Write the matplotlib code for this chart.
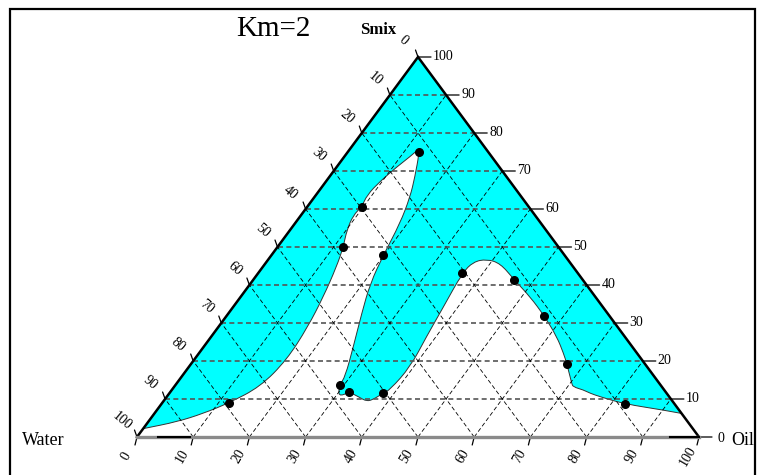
import matplotlib.pyplot as plt
from matplotlib.patches import PathPatch, Rectangle
from matplotlib.path import Path

plt.rcParams['font.family'] = ['Liberation Serif', 'DejaVu Serif']

# puntos experimentales (%)  Water + Oil + Smix = 100
water = [12.3, 29.7, 38.3, 32.2, 20.5, 12.2, 11.6, 13.9, 8.9, 79.1, 57.1, 56.3, 50.5]
oil = [12.6, 9.7, 11.7, 19.9, 36.3, 46.4, 56.6, 66.9, 82.4, 11.9, 29.2, 31.9, 38.0]
smix = [75.1, 60.6, 50.0, 47.9, 43.2, 41.4, 31.8, 19.2, 8.7, 9.0, 13.7, 11.8, 11.5]

# contorno de la zona de microemulsion (oil, smix): borde izq -> vertice -> borde der -> curva
zone_oil = [0.0, 0.0, 93.8, 90.1, 82.4, 77.1, 74.9, 73.2, 71.0, 70.3, 66.9, 64.9, 61.5,
            56.6, 51.5, 46.4, 41.8, 38.8, 36.8, 36.3, 37.4, 38.3, 39.4, 38.8, 38.0,
            37.3, 36.3, 34.1, 31.9, 30.5, 29.2, 29.1, 26.6, 23.7, 21.3, 19.9, 18.7,
            17.0, 15.2, 12.9, 12.2, 11.7, 10.7, 9.6, 9.1, 9.7, 9.3, 10.1, 11.7, 13.1,
            14.7, 15.9, 16.5, 15.3, 11.9, 8.7, 5.1, 0.3]
zone_smix = [2.2, 100.0, 6.2, 7.1, 8.7, 10.6, 11.5, 12.4, 13.2, 14.1, 19.2, 22.0, 26.4,
             31.8, 36.9, 41.4, 45.7, 46.8, 46.1, 43.2, 34.3, 26.4, 18.5, 12.4, 11.5,
             10.2, 9.3, 10.6, 11.8, 10.6, 13.7, 15.9, 23.8, 32.6, 40.4, 47.9, 56.2,
             63.2, 68.5, 74.6, 75.7, 73.8, 71.1, 67.2, 63.7, 60.6, 58.4, 54.5, 50.0, 44.8,
             36.9, 29.0, 20.3, 13.2, 9.0, 6.2, 4.0, 2.3]

ticks = list(range(0, 101, 10))


def tern(o, s):
    return o + s / 2.0, s


fig = plt.figure(figsize=(7.57, 4.75), dpi=100)
ax = fig.add_axes([137 / 757, 38 / 475, 562 / 757, 380 / 475])
ax.set_xlim(0, 100)
ax.set_ylim(0, 100)
ax.axis('off')

# zona cyan: lados rectos sobre el triangulo, curva suavizada en el interior
pts = [tern(o, s) for o, s in zip(zone_oil, zone_smix)]
curve = pts[2:] + [pts[0]]
verts = [pts[0], pts[1], curve[0]]
codes = [Path.MOVETO, Path.LINETO, Path.LINETO]
cverts = [curve[0]]
ccodes = [Path.MOVETO]
for i in range(1, len(curve) - 1):
    mid = ((curve[i][0] + curve[i + 1][0]) / 2, (curve[i][1] + curve[i + 1][1]) / 2)
    if i == len(curve) - 2:
        mid = curve[-1]
    verts += [curve[i], mid]
    codes += [Path.CURVE3, Path.CURVE3]
    cverts += [curve[i], mid]
    ccodes += [Path.CURVE3, Path.CURVE3]
verts.append(pts[0])
codes.append(Path.CLOSEPOLY)
ax.add_patch(PathPatch(Path(verts, codes), facecolor='#00ffff', edgecolor='none', zorder=1))
ax.add_patch(PathPatch(Path(cverts, ccodes), facecolor='none', edgecolor='#333333',
                       lw=0.7, zorder=2))

# rejilla
for t in ticks[1:-1]:
    x0, y0 = tern(0, t)
    x1, y1 = tern(100 - t, t)
    ax.plot([x0, x1], [y0, y1], color='#555555', lw=1.2, ls=(0, (3, 2)), zorder=3)
    x0, y0 = tern(t, 0)
    x1, y1 = tern(t, 100 - t)
    ax.plot([x0, x1], [y0, y1], color='black', lw=0.6, ls=(0, (5, 3)), zorder=3)
    x0, y0 = tern(100 - t, 0)
    x1, y1 = tern(0, 100 - t)
    ax.plot([x0, x1], [y0, y1], color='black', lw=0.6, ls=(0, (5, 3)), zorder=3)

# bordes del triangulo
ax.plot([0, 50, 100], [0, 100, 0], color='black', lw=1.8, zorder=5, clip_on=False,
        solid_joinstyle='miter')
ax.plot([0, 100], [0, 0], color='#8a8a8a', lw=2.4, zorder=5, clip_on=False)
ax.plot([3.7, 9.4], [0, 0], color='black', lw=1.5, zorder=6, clip_on=False)
ax.plot([94.8, 100], [0, 0], color='black', lw=1.5, zorder=6, clip_on=False)

tick_kw = dict(textcoords='offset pixels', annotation_clip=False,
               arrowprops=dict(arrowstyle='-', lw=0.9, color='black', shrinkA=0, shrinkB=0))
lab_kw = dict(textcoords='offset pixels', annotation_clip=False, fontsize=10)

for t in ticks:
    # Smix (derecha)
    p = tern(100 - t, t)
    ax.annotate('', xy=p, xytext=(13, 0), **tick_kw)
    if t > 0:
        ax.annotate(str(t), xy=p, xytext=(15, 0), ha='left', va='center', **lab_kw)
    # Water (izquierda)
    p = tern(0, 100 - t)
    ax.annotate('', xy=p, xytext=(-2.5, 7), **tick_kw)
    ax.annotate(str(t), xy=p, xytext=(-15, 16), ha='center', va='center',
                rotation=-40, **lab_kw)
    # Oil (abajo)
    p = tern(t, 0)
    ax.annotate('', xy=p, xytext=(-2, -8), **tick_kw)
    ax.annotate(str(t), xy=p, xytext=(-11, -19), ha='center', va='center',
                rotation=60, **lab_kw)

# puntos
px = [o + s / 2.0 for o, s in zip(oil, smix)]
ax.plot(px, smix, 'o', color='black', ms=5.5, zorder=7, clip_on=False)

fig.text(718 / 757, 1 - 438 / 475, '0', fontsize=10, ha='left', va='center')
fig.text(731 / 757, 1 - 445 / 475, 'Oil', fontsize=13, ha='left', va='baseline')
fig.text(22 / 757, 1 - 445 / 475, 'Water', fontsize=13, ha='left', va='baseline')
fig.text(236 / 757, 1 - 36 / 475, 'Km=2', fontsize=21, ha='left', va='baseline')
fig.text(360 / 757, 1 - 34 / 475, 'Smix', fontsize=12, fontweight='bold',
         ha='left', va='baseline')

fig.add_artist(Rectangle((10 / 757, -0.02), 745 / 757, 1 - 9 / 475 + 0.02,
                         transform=fig.transFigure, fill=False, lw=1.6,
                         edgecolor='black'))

fig.savefig('out.png', dpi=100)
